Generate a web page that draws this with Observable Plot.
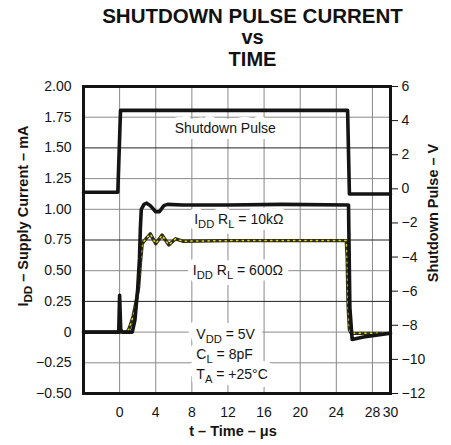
<!DOCTYPE html>
<html><head><meta charset="utf-8">
<script src="https://cdn.jsdelivr.net/npm/d3@7"></script>
<script src="https://cdn.jsdelivr.net/npm/@observablehq/plot@0.6"></script>
<style>
body{margin:0;background:#fff;font-family:"Liberation Sans",Arial,Helvetica,sans-serif;}
#title{position:relative;width:451px;height:76px;overflow:visible;}
#title div{position:absolute;left:27px;width:451px;text-align:center;font-weight:bold;color:#111;line-height:20px;white-space:nowrap;}
#chart svg{display:block;}
</style></head><body>
<div id="title">
  <div style="top:5.5px;font-size:20.5px">SHUTDOWN PULSE CURRENT</div>
  <div style="top:26.5px;font-size:20px">vs</div>
  <div style="top:49.2px;font-size:20px">TIME</div>
</div>
<div id="chart"></div>
<script>
// ---- tick values & labels ----
const xTickValues = [0, 4, 8, 12, 16, 20, 24, 28, 30];
const xTickLabels = ["0", "4", "8", "12", "16", "20", "24", "28", "30"];
const xGridValues = [0, 4, 8, 12, 16, 20, 24, 28];
const leftTickValues = [2, 1.75, 1.5, 1.25, 1, 0.75, 0.5, 0.25, 0, -0.25, -0.5];
const leftTickLabels = ["2.00", "1.75", "1.50", "1.25", "1.00", "0.75", "0.50", "0.25", "0", "−0.25", "−0.50"];
const rightTickValues = [6, 4, 2, 0, -2, -4, -6, -8, -10, -12];
const rightTickLabels = ["6", "4", "2", "0", "−2", "−4", "−6", "−8", "−10", "−12"];
const darkGridValues = [1.5, 0.75, 0.25];

// ---- series: shutdown pulse (V, right axis) ----
const pulseTime  = [-4, -0.2, 0.1, 25.25, 25.45, 30];
const pulseVolts = [-0.2, -0.2, 4.6, 4.6, -0.3, -0.3];

// ---- series: IDD with RL = 10k (mA) ----
const i10kTime  = [-4, -0.6, -0.1, 0, 0.12, 0.3, 1.4, 1.7, 2.0, 2.2, 2.3, 2.4, 2.7, 3.0, 3.4, 4.0, 4.4, 4.9, 5.3, 7, 12, 18, 25.35, 25.5, 25.75, 27, 30];
const i10kValue = [0, 0, 0, 0.30, 0.02, 0, 0, 0.10, 0.35, 0.60, 0.85, 1.00, 1.04, 1.05, 1.03, 0.98, 0.98, 1.03, 1.04, 1.035, 1.035, 1.04, 1.035, 0.2, -0.06, -0.04, -0.01];

// ---- series: IDD with RL = 600 ohm (mA) ----
const i600Time  = [-4, 0.3, 0.8, 1.0, 1.2, 1.5, 1.8, 2.1, 2.3, 2.5, 2.8, 3.4, 4.0, 4.7, 5.45, 6.2, 7.0, 12, 18, 25.1, 25.2, 25.3, 25.45, 25.65, 27, 30];
const i600Value = [0, 0, 0, 0.02, 0.06, 0.13, 0.24, 0.36, 0.56, 0.72, 0.75, 0.80, 0.72, 0.79, 0.71, 0.76, 0.74, 0.745, 0.745, 0.745, 0.61, 0.22, 0.02, -0.01, -0.01, -0.01];

// ---- annotations ----
const annoText    = ["Shutdown Pulse", "I_DD R_L = 10kΩ", "I_DD R_L = 600Ω"];
const annoTime    = [11.7, 13.2, 13.1];
const annoCurrent = [1.66, 0.92, 0.50];
const condText    = ["V_DD = 5V", "C_L = 8pF", "T_A = +25°C"];
const condTime    = 8.5;
const condCurrent = -0.17;

const yTitle  = "I_DD – Supply Current – mA";
const y2Title = "Shutdown Pulse – V";
const xTitle  = "t – Time – μs";

// right axis (V) mapped onto the left scale (mA)
const vToMa = v => (v + 12) / 18 * 2.5 - 0.5;

const pulse = pulseTime.map((t, i) => ({t, v: pulseVolts[i]}));
const r10k = i10kTime.map((t, i) => ({t, i: i10kValue[i]}));
const r600 = i600Time.map((t, i) => ({t, i: i600Value[i]}));
const annos = annoText.map((s, k) => ({s, t: annoTime[k], y: annoCurrent[k]}));
const cond = [{s: condText.join("\n"), t: condTime, y: condCurrent}];

const leftMap = new Map(leftTickValues.map((v, i) => [v, leftTickLabels[i]]));
const rightMa = rightTickValues.map(vToMa);
const rightMap = new Map(rightMa.map((v, i) => [v, rightTickLabels[i]]));
const xMap = new Map(xTickValues.map((v, i) => [v, xTickLabels[i]]));
const lightGrid = leftTickValues.filter(v => v < 2 && v > -0.5 && !darkGridValues.includes(v));

const ink = "#141414";

const chart = Plot.plot({
  width: 451, height: 369,
  marginLeft: 83, marginRight: 61, marginTop: 10, marginBottom: 52,
  style: {fontFamily: '"Liberation Sans", Arial, Helvetica, sans-serif', fontSize: "14px", color: ink, background: "#fff"},
  x: {domain: [-4, 30], label: null},
  y: {domain: [-0.5, 2], label: null},
  marks: [
    Plot.ruleX(xGridValues, {stroke: "#8a8a8a", strokeWidth: 1}),
    Plot.ruleY(lightGrid, {stroke: "#8a8a8a", strokeWidth: 1}),
    Plot.ruleY(darkGridValues, {stroke: "#222", strokeWidth: 1}),
    // white boxes (halos) behind the annotations
    Plot.text(annos, {x: "t", y: "y", text: "s", fontSize: 14, fill: "white", stroke: "white", strokeWidth: 12}),
    Plot.text(cond, {x: "t", y: "y", text: "s", fontSize: 14, textAnchor: "start", lineHeight: 1.42, fill: "white", stroke: "white", strokeWidth: 16}),
    Plot.text(annos, {x: "t", y: "y", text: "s", fontSize: 14, fill: ink}),
    Plot.text(cond, {x: "t", y: "y", text: "s", fontSize: 14, textAnchor: "start", lineHeight: 1.42, fill: ink}),
    Plot.line(pulse, {x: "t", y: d => vToMa(d.v), stroke: ink, strokeWidth: 3.6}),
    Plot.line(r600, {x: "t", y: "i", stroke: "#2e2e18", strokeWidth: 3.4}),
    Plot.line(r600, {x: "t", y: "i", stroke: "#e6d800", strokeWidth: 1.5, strokeDasharray: "1.2,4.5"}),
    Plot.line(r10k, {x: "t", y: "i", stroke: ink, strokeWidth: 3.6}),
    Plot.frame({stroke: ink, strokeWidth: 3}),
    Plot.axisY(leftTickValues, {anchor: "left", tickSize: 0, tickPadding: 12, tickFormat: d => leftMap.get(d), label: null, fontSize: 14}),
    Plot.axisY(rightMa, {anchor: "right", tickSize: 7, tickPadding: 4, tickFormat: d => rightMap.get(d), label: null, fontSize: 14, stroke: ink}),
    Plot.axisX(xTickValues, {anchor: "bottom", tickSize: 0, tickPadding: 14, tickFormat: d => xMap.get(d), label: null, fontSize: 14}),
    Plot.text([yTitle], {frameAnchor: "left", textAnchor: "middle", lineAnchor: "middle", rotate: -90, dx: -60, dy: -24, text: d => d, fontWeight: "bold", fontSize: 14.5, fill: ink}),
    Plot.text([y2Title], {frameAnchor: "right", textAnchor: "middle", lineAnchor: "middle", rotate: -90, dx: 43, dy: -27, text: d => d, fontWeight: "bold", fontSize: 14.5, fill: ink}),
    Plot.text([xTitle], {frameAnchor: "bottom", textAnchor: "middle", lineAnchor: "middle", dx: -4, dy: 38, text: d => d, fontWeight: "bold", fontSize: 14.5, fill: ink})
  ]
});

// subscripts: "_XX" -> subscript tspan
const NS = "http://www.w3.org/2000/svg";
chart.querySelectorAll("text, tspan").forEach(el => {
  for (const node of Array.from(el.childNodes)) {
    if (node.nodeType !== 3 || !node.nodeValue.includes("_")) continue;
    const parts = node.nodeValue.split(/_([A-Z]+)/);
    const frag = document.createDocumentFragment();
    let shifted = false;
    parts.forEach((p, k) => {
      if (!p) return;
      const ts = document.createElementNS(NS, "tspan");
      if (k % 2 === 1) {
        ts.setAttribute("dy", "4");
        ts.setAttribute("font-size", "0.8em");
        shifted = true;
      } else if (shifted) {
        ts.setAttribute("dy", "-4");
        shifted = false;
      }
      ts.textContent = p;
      frag.appendChild(ts);
    });
    el.replaceChild(frag, node);
  }
});

document.getElementById("chart").appendChild(chart);
</script>
</body></html>
